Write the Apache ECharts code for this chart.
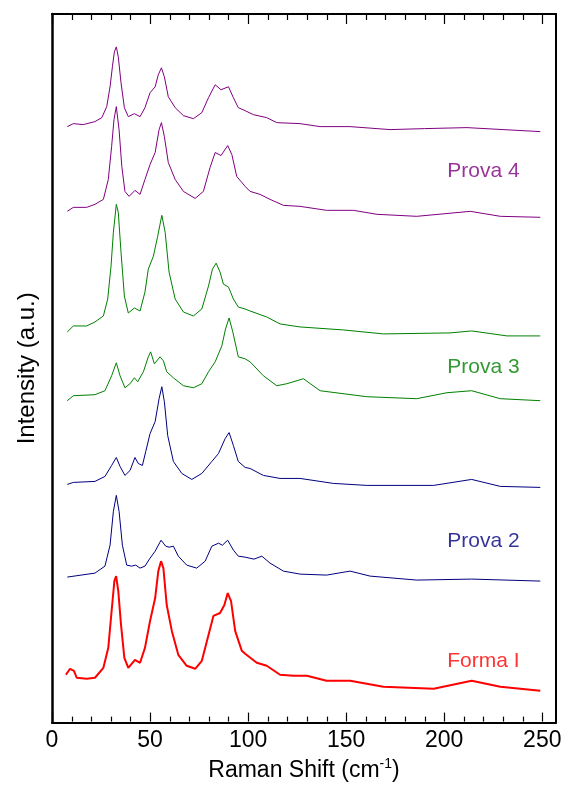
<!DOCTYPE html>
<html>
<head>
<meta charset="utf-8">
<script src="https://cdn.jsdelivr.net/npm/echarts@6/dist/echarts.min.js"></script>
<style>
html,body{margin:0;padding:0;background:#fff;}
#chart{width:565px;height:787px;}
</style>
</head>
<body>
<div id="chart"></div>
<script>
// ---------------- DATA (Raman shift in cm-1, intensity in a.u. incl. stacking offset) ----------------
const p4aX = [7.8,10.9,15.9,21.9,25.4,27.9,29.6,30.8,31.8,32.8,33.8,35.2,36.9,38.9,42,44.9,47.4,50,52.6,54.2,55.8,57.3,59.3,62.8,67,72.1,76.4,79.8,83.2,86.2,90,92.5,95,98.5,102.7,109.5,114.6,126.5,136.7,152,172.4,190,211.6,230,249];
const p4aY = [598,601,600,603,607,618,638,658,673,678,668,642,617,608,611,608,617,632,638,650,657,648,628,617,609,606,612,627,640,635,638,627,617,614,610,607,602,601,598,598,595,596,597,595,593];

const p4bX = [7.8,10.9,17.7,21.9,26.2,28.7,30.4,31.6,32.8,34.2,35.6,37.2,39.3,42.3,44.9,47.4,50,52.6,54.6,55.8,57.3,59.3,62.8,67,73,77.2,80.6,83.2,86.2,89.6,91.7,94.2,98.5,101,106.1,111.2,118,126.5,140,153.7,165.7,186,213.3,228.6,249];
const p4bY = [513,517,517,520,525,545,578,605,618,595,558,533,528,534,530,545,560,572,595,602,588,562,545,533,526,533,557,572,569,579,570,548,538,533,530,525,519,518,514,514,510,508,513,508,507];

const p3aX = [7.8,10.9,17.7,21.9,26.2,28.4,30.1,31.3,32.8,33.8,35.2,36.9,38.9,42,44.9,47.4,49.1,51.7,53.9,56,57.7,59.7,62.8,67,72.1,76.4,79.8,81.8,83.7,85.7,87.4,90,92.5,95,98.5,101,109.5,116.3,126.5,148.5,169,203,214,232,249];
const p3aY = [392,398,398,402,408,425,458,492,520,512,472,428,411,416,413,432,455,468,488,509,492,452,425,412,408,415,438,455,461,452,440,437,425,417,415,413,407,400,397,394,390,391,393,388,388];

const p3bX = [7.8,10.9,21.9,27,30.4,32.8,34.7,37.2,39.8,42,43.7,46.6,49.1,50.3,52.2,55.1,56.8,58.5,61.9,67,72.1,76.4,79.8,83.2,86.6,88.5,90.3,92.2,95,98.5,101,107.8,114.6,119.7,128.2,136.7,160.5,186,201.4,214,228.6,249];
const p3bY = [323,328,329,333,348,361,348,336,340,346,342,352,367,372,360,367,363,352,346,338,336,340,352,362,378,395,406,392,367,365,362,348,338,340,345,333,327,325,331,333,325,323];

const p2aX = [7.8,10.9,21.9,27,30.4,32.8,34.7,37.2,39.8,42.3,44,46.1,47.8,50,52.6,54.6,56,57.3,59,61.9,66.2,71.3,76.4,81.5,84.9,88.3,90.3,92.5,95,98.5,101,107.8,116.3,126.5,143.5,160.5,194.6,214,228.6,249];
const p2aY = [239,241,242,247,258,266,257,248,253,266,260,258,272,290,302,325,337,322,288,262,250,244,250,262,270,285,291,278,262,256,255,248,245,245,240,238,238,244,237,236];

const p2bX = [7.8,21.9,27,29.6,31.3,32.8,34.2,35.9,38.1,40.6,42.7,44.9,47.4,50,52.6,55.6,58,59.7,61.9,64.4,68.7,73.8,78.1,81.5,84.9,86.9,89.6,92.5,95,98.5,103,107,111.2,118,126.5,140,152,162.2,186,214,249];
const p2bY = [146,150,157,178,212,228,212,178,158,157,158,155,157,165,172,183,177,176,177,167,158,155,162,177,180,178,183,173,167,166,164,167,160,152,149,148,152,147,143,144,142];

const f1X = [7.1,9.2,11.2,12.6,17.7,21.9,26.2,28.7,30.4,31.8,32.7,33.8,35.2,36.9,38.9,42.3,44.9,47.4,50,52.6,54.2,55.6,56.8,58.5,61.1,64.4,68.7,73,76.4,79.8,82.3,85.7,87.9,89.6,91.3,93.4,96.8,98.5,104.4,109.5,116.3,123.1,130,140,152,169,194.6,214,228.6,249];
const f1Y = [48,54,52,45,44,45,55,75,112,142,147,132,98,65,55,63,60,75,102,125,152,162,155,118,92,68,57,54,62,88,107,110,118,130,122,92,72,69,60,57,48,47,47,42,42,36,34,42,36,32];

const sampleNames = ['Prova 4','Prova 3','Prova 2','Forma I'];
const majorTicks = [0,50,100,150,200,250];
const minorTicks = [10,20,30,40,60,70,80,90,110,120,130,140,160,170,180,190,210,220,230,240];

// ---------------- STYLE / LAYOUT ----------------
const FONT = 'Liberation Sans, Arial, sans-serif';
const PURPLE = '#800080', GREEN = '#008000', NAVY = '#000080', RED = '#ff0000';
const X_MIN = 0, X_MAX = 257, Y_MIN = 0, Y_MAX = 711;
const MAJOR_LEN = 10, MINOR_LEN = 6;
const labelAnchorX = [220,220,220,220];
const labelAnchorY = [553,357,182,62];
const labelColors = [PURPLE, GREEN, NAVY, RED];

const traces = [
  {x:p4aX, y:p4aY, color:PURPLE, w:1},
  {x:p4bX, y:p4bY, color:PURPLE, w:1},
  {x:p3aX, y:p3aY, color:GREEN, w:1},
  {x:p3bX, y:p3bY, color:GREEN, w:1},
  {x:p2aX, y:p2aY, color:NAVY, w:1},
  {x:p2bX, y:p2bY, color:NAVY, w:1},
  {x:f1X,  y:f1Y,  color:RED, w:2}
];

const pairs = (xs, ys) => xs.map((x, i) => [x, ys[i]]);

const series = traces.map(t => ({
  type: 'line',
  data: pairs(t.x, t.y),
  xAxisIndex: 0, yAxisIndex: 0,
  showSymbol: false,
  symbol: 'none',
  smooth: false,
  silent: true,
  animation: false,
  lineStyle: {color: t.color, width: t.w}
}));

series.push({
  type: 'scatter',
  xAxisIndex: 0, yAxisIndex: 0,
  symbolSize: 0,
  silent: true,
  animation: false,
  data: sampleNames.map((n, i) => ({
    value: [labelAnchorX[i], labelAnchorY[i]],
    name: n,
    label: {color: labelColors[i]}
  })),
  label: {
    show: true,
    position: 'inside',
    formatter: p => p.name,
    fontFamily: FONT,
    fontSize: 21
  }
});

const frameLine = {show: true, onZero: false, lineStyle: {color: '#000', width: 2}};

const option = {
  backgroundColor: '#fff',
  animation: false,
  grid: {left: 52, right: 9, top: 14, bottom: 62},
  xAxis: [
    {
      type: 'value', position: 'bottom', min: X_MIN, max: X_MAX, interval: 50,
      axisLine: frameLine,
      axisTick: {show: false},
      axisLabel: {show: true, showMaxLabel: false, color: '#000',
                  fontFamily: FONT, fontSize: 23, margin: 7},
      splitLine: {show: false},
      name: 'Raman Shift (cm{sup|-1})',
      nameLocation: 'middle',
      nameGap: 34,
      nameTextStyle: {
        color: '#000', fontFamily: FONT, fontSize: 23,
        rich: {sup: {fontFamily: FONT, fontSize: 14, color: '#000', padding: [0, 0, 12, 0]}}
      }
    },
    {
      type: 'value', position: 'top', min: X_MIN, max: X_MAX,
      axisLine: frameLine,
      axisTick: {show: false}, axisLabel: {show: false}, splitLine: {show: false}
    }
  ],
  yAxis: [
    {
      type: 'value', position: 'left', min: Y_MIN, max: Y_MAX,
      axisLine: {show: true, onZero: false, lineStyle: {color: '#000', width: 2.5}},
      axisTick: {show: false}, axisLabel: {show: false}, splitLine: {show: false},
      name: 'Intensity (a.u.)', nameLocation: 'middle', nameGap: 13,
      nameTextStyle: {color: '#000', fontFamily: FONT, fontSize: 24}
    },
    {
      type: 'value', position: 'right', min: Y_MIN, max: Y_MAX,
      axisLine: frameLine,
      axisTick: {show: false}, axisLabel: {show: false}, splitLine: {show: false}
    }
  ],
  series: series
};

const chart = echarts.init(document.getElementById('chart'), null, {renderer: 'canvas'});
chart.setOption(option);

// inward tick marks on the bottom and top frame, positioned through the grid's scales
function toPx(v, y) {
  let p = null;
  try { p = chart.convertToPixel({gridIndex: 0}, [v, y]); } catch (e) { p = null; }
  if (!p || !isFinite(p[0]) || !isFinite(p[1])) {
    try { p = chart.convertToPixel({seriesIndex: 0}, [v, y]); } catch (e) { p = null; }
  }
  return p;
}
function tickGraphics() {
  const els = [];
  const add = (v, len) => {
    const b = toPx(v, Y_MIN);
    const t = toPx(v, Y_MAX);
    if (!b || !t) return;
    const x = Math.round(b[0]) + 0.5;
    els.push({type: 'line', z: 100, silent: true,
      shape: {x1: x, y1: b[1] - 1, x2: x, y2: b[1] - len},
      style: {stroke: '#000', lineWidth: 1.2}});
    els.push({type: 'line', z: 100, silent: true,
      shape: {x1: x, y1: t[1] + 1, x2: x, y2: t[1] + len},
      style: {stroke: '#000', lineWidth: 1.2}});
  };
  majorTicks.forEach(v => add(v, MAJOR_LEN));
  minorTicks.forEach(v => add(v, MINOR_LEN));
  return els;
}
chart.setOption({graphic: tickGraphics()});
</script>
</body>
</html>
